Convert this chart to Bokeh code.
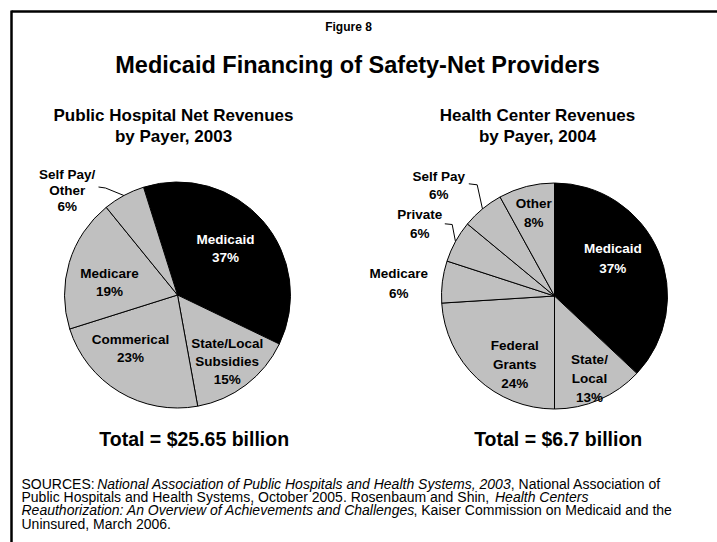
import math
from bokeh.plotting import figure
from bokeh.models import Range1d
from bokeh.core.properties import value
from bokeh.embed import file_html
from bokeh.resources import INLINE

# ---------------- data ----------------
hosp_categories = ["Medicaid", "State/Local\nSubsidies", "Commerical", "Medicare", "Self Pay/\nOther"]
hosp_values = [37, 15, 23, 19, 6]
hosp_total = "Total = $25.65 billion"

hc_categories = ["Medicaid", "State/\nLocal", "Federal\nGrants", "Medicare", "Private", "Self Pay", "Other"]
hc_values = [37, 13, 24, 6, 6, 6, 8]
hc_total = "Total = $6.7 billion"

figure_label = "Figure 8"
main_title = "Medicaid Financing of Safety-Net Providers"
hosp_title = ["Public Hospital Net Revenues", "by Payer, 2003"]
hc_title = ["Health Center Revenues", "by Payer, 2004"]

# ---------------- layout / style ----------------
W, H = 717, 542
FONT = value("Liberation Sans")
GRAY = "#c0c0c0"

p = figure(width=W, height=H, x_range=Range1d(0, W), y_range=Range1d(0, H),
           output_backend="svg", toolbar_location=None, min_border=0,
           x_axis_location=None, y_axis_location=None)
p.grid.visible = False
p.outline_line_color = None
p.background_fill_color = "white"
p.border_fill_color = "white"


def Y(img_y):
    return H - img_y


def txt(x, y, s, size, style="bold", color="black", align="center"):
    p.text(x=[x], y=[Y(y)], text=[s], text_font=FONT, text_font_size=f"{size}px",
           text_font_style=style, text_align=align, text_baseline="middle", text_color=color)


def pie(cx, cy, r, values, start_deg, colors):
    total = float(sum(values))
    cum = start_deg
    mids = []
    for v, c in zip(values, colors):
        th1 = cum
        th2 = cum + v / total * 360.0
        p.wedge(x=[cx], y=[Y(cy)], radius=r,
                start_angle=math.radians(90 - th2), end_angle=math.radians(90 - th1),
                fill_color=c, line_color="black", line_width=1)
        mids.append((th1 + th2) / 2.0)
        cum = th2
    return mids


def edge_point(cx, cy, r, deg):
    return cx + r * math.sin(math.radians(deg)), cy - r * math.cos(math.radians(deg))


# frame
p.line([11, 720], [Y(11), Y(11)], line_color="black", line_width=2.5)
p.line([11, 11], [Y(10), Y(545)], line_color="black", line_width=2.5)

# titles
txt(348, 26, figure_label, 12)
txt(357, 64.5, main_title, 23.5)
txt(173, 115, hosp_title[0], 17)
txt(173, 136, hosp_title[1], 17)
txt(537, 115, hc_title[0], 17)
txt(537, 136, hc_title[1], 17)

# left pie
LCX, LCY, R = 177, 294.5, 113
left_colors = ["black"] + [GRAY] * (len(hosp_values) - 1)
lmids = pie(LCX, LCY, R, hosp_values, -17.5, left_colors)

left_label_pos = [(225, 238.7, 18.7), (226.7, 343, 18.2), (130, 339, 18), (109, 273.3, 17.7), (66.7, 173.5, 16)]
for cat, v, (lx, ly, sp), col in zip(hosp_categories, hosp_values, left_label_pos, left_colors):
    lines = cat.split("\n") + [f"{v}%"]
    tc = "white" if col == "black" else "black"
    for i, s in enumerate(lines):
        txt(lx, ly + i * sp, s, 13.5, color=tc)

ex, ey = edge_point(LCX, LCY, R, lmids[4])
p.line([98, 105, ex], [Y(186.5), Y(187.5), Y(ey)], line_color="black", line_width=1)

# right pie
RCX, RCY = 554, 295.5
right_colors = ["black"] + [GRAY] * (len(hc_values) - 1)
rmids = pie(RCX, RCY, R, hc_values, 0, right_colors)

right_label_pos = [(612.3, 248.3, 19.4), (589, 359.3, 19), (514.3, 344.7, 19.3), (398.3, 273.3, 19.4),
                   (419.3, 214.3, 19), (438.3, 175.7, 18.6), (533.3, 202.7, 19.6)]
for cat, v, (lx, ly, sp), col in zip(hc_categories, hc_values, right_label_pos, right_colors):
    lines = cat.split("\n") + [f"{v}%"]
    tc = "white" if col == "black" else "black"
    for i, s in enumerate(lines):
        txt(lx, ly + i * sp, s, 13.5, color=tc)

ex, ey = edge_point(RCX, RCY, R, rmids[4])
p.line([444.3, 451.7, ex], [Y(223.3), Y(224), Y(ey)], line_color="black", line_width=1)
ex, ey = edge_point(RCX, RCY, R, rmids[5])
p.line([468.3, 476.7, ex], [Y(183.3), Y(184.3), Y(ey)], line_color="black", line_width=1)

# totals
txt(193.7, 438.5, hosp_total, 19.5)
txt(557.7, 438.5, hc_total, 19.5)

# sources
src = [
    (483.0, [("SOURCES:  ", "normal", 21), ("National Association of Public Hospitals and Health Systems, 2003", "italic", 96.7),
             (", National Association of", "normal", 510.3)]),
    (496.3, [("Public Hospitals and Health Systems, October 2005.  Rosenbaum and Shin,", "normal", 21),
             ("Health Centers", "italic", 494.5)]),
    (509.7, [("Reauthorization: An Overview of Achievements and Challenges", "italic", 21),
             (", Kaiser Commission on Medicaid and the", "normal", 413)]),
    (523.0, [("Uninsured, March 2006.", "normal", 21)]),
]
for ly, segs in src:
    for s, st, x0 in segs:
        txt(x0, ly, s, 14, style=st, align="left")

open("out.html", "w").write(file_html(p, INLINE))
